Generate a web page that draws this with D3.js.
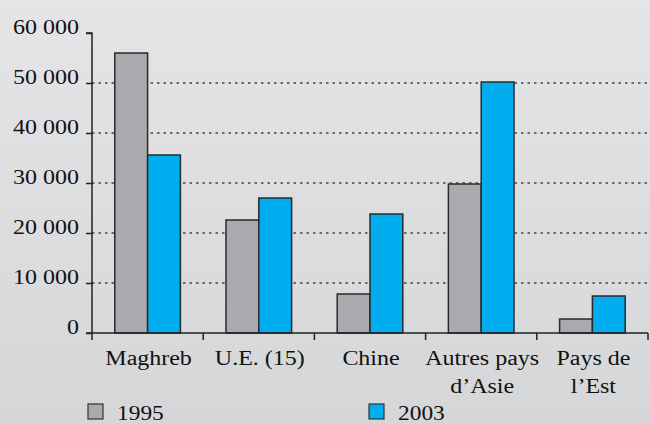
<!DOCTYPE html>
<html>
<head>
<meta charset="utf-8">
<script src="https://cdn.jsdelivr.net/npm/d3@7"></script>
<style>
  body { margin: 0; }
  svg, svg text { font-family: "Liberation Serif", "Times New Roman", Times, "DejaVu Serif", serif !important; }
</style>
</head>
<body>
<div class="canvas"></div>
<script>
const categories = [['Maghreb'], ['U.E. (15)'], ['Chine'], ['Autres pays', 'd’Asie'], ['Pays de', 'l’Est']];
const series = ['1995', '2003'];
const values1995 = [56000, 22600, 7800, 29800, 2800];
const values2003 = [35600, 27000, 23800, 50200, 7400];
const yTicks = [0, 10000, 20000, 30000, 40000, 50000, 60000];

const dims = { width: 650, height: 424 };
const plot = { left: 92, right: 648, top: 33, bottom: 333 };
const colors = ['#a9aaad', '#00adee'];
// the source picture is stretched sideways a little
const fontSize = '20.5px';
const stretch = 1.17;

const svg = d3.select('.canvas')
  .append('svg')
  .attr('width', dims.width)
  .attr('height', dims.height);

const grad = svg.append('defs').append('linearGradient')
  .attr('id', 'bg').attr('x1', 0).attr('y1', 0).attr('x2', 0).attr('y2', 1);
grad.append('stop').attr('offset', '0%').attr('stop-color', '#e5e5e7');
grad.append('stop').attr('offset', '100%').attr('stop-color', '#d5d6d8');

svg.append('rect')
  .attr('width', dims.width).attr('height', dims.height)
  .attr('fill', 'url(#bg)');

const x = d3.scaleBand()
  .domain(d3.range(categories.length))
  .range([plot.left, plot.right]);

const inner = d3.scaleBand()
  .domain(series)
  .range([0, x.bandwidth() * 0.59]);

const y = d3.scaleLinear()
  .domain([0, 60000])
  .range([plot.bottom, plot.top]);

// grid lines
svg.append('g')
  .selectAll('line')
  .data(yTicks.filter(t => t > 0 && t < 60000))
  .enter().append('line')
    .attr('x1', plot.left).attr('x2', plot.right)
    .attr('y1', d => y(d)).attr('y2', d => y(d))
    .attr('stroke', '#444')
    .attr('stroke-width', 1.3)
    .attr('stroke-dasharray', '2.5,4');

// bars
const data = categories.map((c, i) => ({ i, vals: [values1995[i], values2003[i]] }));
const groups = svg.append('g')
  .selectAll('g')
  .data(data)
  .enter().append('g')
    .attr('transform', d => `translate(${x(d.i) + (x.bandwidth() - inner.range()[1]) / 2}, 0)`);

groups.selectAll('rect')
  .data(d => d.vals.map((v, k) => ({ v, s: series[k], k })))
  .enter().append('rect')
    .attr('x', d => inner(d.s))
    .attr('width', inner.bandwidth())
    .attr('y', d => y(d.v))
    .attr('height', d => y(0) - y(d.v))
    .attr('fill', d => colors[d.k])
    .attr('stroke', '#2a2a2a')
    .attr('stroke-width', 1.5);

// y axis
const yAxis = d3.axisLeft(y)
  .tickValues(yTicks)
  .tickSize(6)
  .tickFormat(d => d3.format(',')(d).replace(',', '\u00a0'));

const yg = svg.append('g')
  .attr('transform', `translate(${plot.left}, 0)`)
  .call(yAxis)
  .attr('font-family', null)
  .attr('font-size', null);
yg.select('.domain').attr('stroke', '#222').attr('stroke-width', 1.5)
  .attr('d', `M-6,${plot.top}H0V${plot.bottom}`);
yg.selectAll('.tick line').attr('stroke', '#222').attr('stroke-width', 1.5);
yg.selectAll('.tick text')
  .attr('x', 0)
  .attr('dy', 0)
  .attr('transform', `translate(-13,0) scale(${stretch},1)`)
  .attr('fill', '#111')
  .style('font-size', fontSize);

// x axis
const xg = svg.append('g');
xg.append('line')
  .attr('x1', plot.left - 6).attr('x2', plot.right)
  .attr('y1', plot.bottom).attr('y2', plot.bottom)
  .attr('stroke', '#222').attr('stroke-width', 1.5);
xg.selectAll('.xtick')
  .data(d3.range(categories.length + 1))
  .enter().append('line')
    .attr('x1', d => plot.left + d * x.step())
    .attr('x2', d => plot.left + d * x.step())
    .attr('y1', plot.bottom).attr('y2', plot.bottom + 7)
    .attr('stroke', '#222').attr('stroke-width', 1.5);

const labels = xg.selectAll('g.lab')
  .data(categories)
  .enter().append('g')
    .attr('class', 'lab')
    .attr('transform', (d, i) => `translate(${x(i) + x.bandwidth() / 2 + 1}, 365) scale(${stretch},1)`);
labels.each(function(lines) {
  const g = d3.select(this);
  lines.forEach((l, j) => {
    g.append('text')
      .attr('text-anchor', 'middle')
      .attr('y', j * 28.5)
      .attr('fill', '#111')
      .style('font-size', fontSize)
      .text(l);
  });
});

// legend
const legend = svg.append('g');
const legendX = [88, 369];
series.forEach((s, k) => {
  legend.append('rect')
    .attr('x', legendX[k]).attr('y', 404)
    .attr('width', 15).attr('height', 15)
    .attr('fill', colors[k])
    .attr('stroke', '#333').attr('stroke-width', 1.2);
  legend.append('text')
    .attr('transform', `translate(${legendX[k] + 29}, 419.5) scale(${stretch},1)`)
    .attr('fill', '#111')
    .style('font-size', '20px')
    .text(s);
});
</script>
</body>
</html>
